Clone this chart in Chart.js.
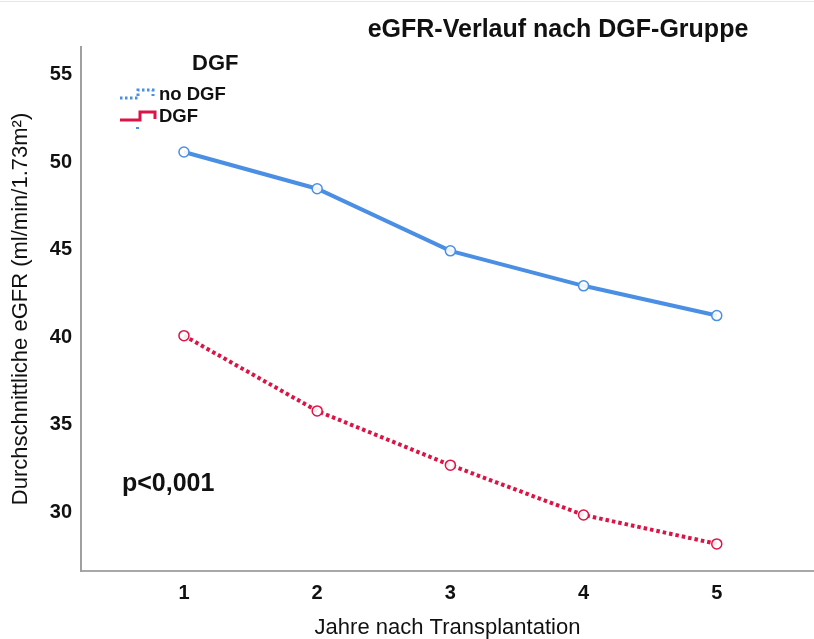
<!DOCTYPE html>
<html>
<head>
<meta charset="utf-8">
<script src="https://cdn.jsdelivr.net/npm/chart.js@4.4.1/dist/chart.umd.min.js"></script>
<style>
  html, body { margin: 0; padding: 0; background: #fff; }
  #wrap { width: 814px; height: 639px; position: relative; }
</style>
</head>
<body>
<div id="wrap"><canvas id="c" width="814" height="639"></canvas></div>
<script>
// ---- Data ----
const years = [1, 2, 3, 4, 5];
const noDGF = [50.45, 48.35, 44.8, 42.8, 41.1];
const withDGF = [39.95, 35.65, 32.55, 29.7, 28.05];
const yTicks = [30, 35, 40, 45, 50, 55];
const seriesLabels = ['no DGF', 'DGF'];
const chartTitle = 'eGFR-Verlauf nach DGF-Gruppe';
const legendTitle = 'DGF';
const xTitle = 'Jahre nach Transplantation';
const yTitle = 'Durchschnittliche eGFR (ml/min/1.73m²)';
const pText = 'p<0,001';

const BLUE = '#4a8fe3';
const RED = '#dc1446';
const FONT = '"Liberation Sans", Arial, sans-serif';

const overlay = {
  id: 'overlay',
  afterDraw(chart) {
    const ctx = chart.ctx;
    ctx.save();
    // faint top border line
    ctx.strokeStyle = '#e6e6e6';
    ctx.lineWidth = 1;
    ctx.beginPath(); ctx.moveTo(0, 1.5); ctx.lineTo(814, 1.5); ctx.stroke();

    // title
    ctx.fillStyle = '#111';
    ctx.font = 'bold 25px ' + FONT;
    ctx.textAlign = 'center';
    ctx.textBaseline = 'middle';
    ctx.fillText(chartTitle, 558, 30);

    // legend title
    ctx.font = 'bold 22px ' + FONT;
    ctx.textAlign = 'left';
    ctx.fillText(legendTitle, 192, 64);

    // legend symbols
    // no DGF: blue dotted step
    ctx.strokeStyle = BLUE;
    ctx.lineWidth = 3;
    ctx.setLineDash([2.5, 2.5]);
    ctx.beginPath();
    ctx.moveTo(120, 98); ctx.lineTo(138, 98); ctx.lineTo(138, 90); ctx.lineTo(153, 90); ctx.lineTo(153, 96);
    ctx.stroke();
    // DGF: red solid step
    ctx.setLineDash([]);
    ctx.strokeStyle = RED;
    ctx.beginPath();
    ctx.moveTo(120, 120); ctx.lineTo(140, 120); ctx.lineTo(140, 112); ctx.lineTo(155, 112); ctx.lineTo(155, 119);
    ctx.stroke();
    // tiny blue mark
    ctx.fillStyle = BLUE;
    ctx.fillRect(136, 127, 3, 2);

    ctx.fillStyle = '#111';
    ctx.font = 'bold 18.5px ' + FONT;
    ctx.textBaseline = 'middle';
    ctx.fillText(chart.data.datasets[0].label, 159, 95);
    ctx.fillText(chart.data.datasets[1].label, 159, 117);

    // p-value
    ctx.font = 'bold 25px ' + FONT;
    ctx.fillText(pText, 122, 484);
    ctx.restore();
  }
};

new Chart(document.getElementById('c'), {
  type: 'line',
  data: {
    datasets: [
      {
        label: seriesLabels[0],
        data: years.map((x, i) => ({ x: x, y: noDGF[i] })),
        borderColor: BLUE,
        borderWidth: 4,
        pointRadius: 5,
        pointBorderWidth: 1.5,
        pointBorderColor: BLUE,
        pointBackgroundColor: 'rgba(255,255,255,0.9)',
        tension: 0
      },
      {
        label: seriesLabels[1],
        data: years.map((x, i) => ({ x: x, y: withDGF[i] })),
        borderColor: RED,
        borderWidth: 4,
        borderDash: [3.5, 3],
        pointRadius: 5,
        pointBorderWidth: 1.5,
        pointBorderColor: RED,
        pointBackgroundColor: 'rgba(255,255,255,0.9)',
        tension: 0
      }
    ]
  },
  options: {
    responsive: false,
    animation: false,
    layout: { autoPadding: false, padding: { top: 47, right: 0, left: 0, bottom: 0 } },
    plugins: {
      legend: { display: false },
      title: { display: false },
      tooltip: { enabled: false }
    },
    scales: {
      x: {
        type: 'linear',
        min: 0.227,
        max: 5.73,
        afterBuildTicks: (s) => { s.ticks = years.map(v => ({ value: v })); },
        afterFit: (s) => { s.height = 68; s.paddingLeft = 0; s.paddingRight = 0; },
        grid: { display: false, drawTicks: false },
        border: { display: true, color: '#a8a8a8', width: 2 },
        ticks: {
          padding: 10,
          color: '#111',
          font: { family: FONT, size: 20, weight: 'bold' },
          callback: (v) => String(v)
        },
        title: {
          display: true,
          text: xTitle,
          color: '#111',
          font: { family: FONT, size: 22 },
          padding: { top: 0, bottom: -2 }
        }
      },
      y: {
        type: 'linear',
        min: 26.5,
        max: 56.45,
        afterBuildTicks: (s) => { s.ticks = yTicks.map(v => ({ value: v })); },
        afterFit: (s) => { s.width = 81; },
        grid: { display: false, drawTicks: false },
        border: { display: true, color: '#a0a0a0', width: 2 },
        ticks: {
          padding: 9,
          labelOffset: 2.5,
          color: '#111',
          font: { family: FONT, size: 20, weight: 'bold' },
          callback: (v) => String(v)
        },
        title: {
          display: true,
          text: yTitle,
          color: '#111',
          font: { family: FONT, size: 22 },
          padding: { top: 8, bottom: 0 }
        }
      }
    }
  },
  plugins: [overlay]
});
</script>
</body>
</html>
